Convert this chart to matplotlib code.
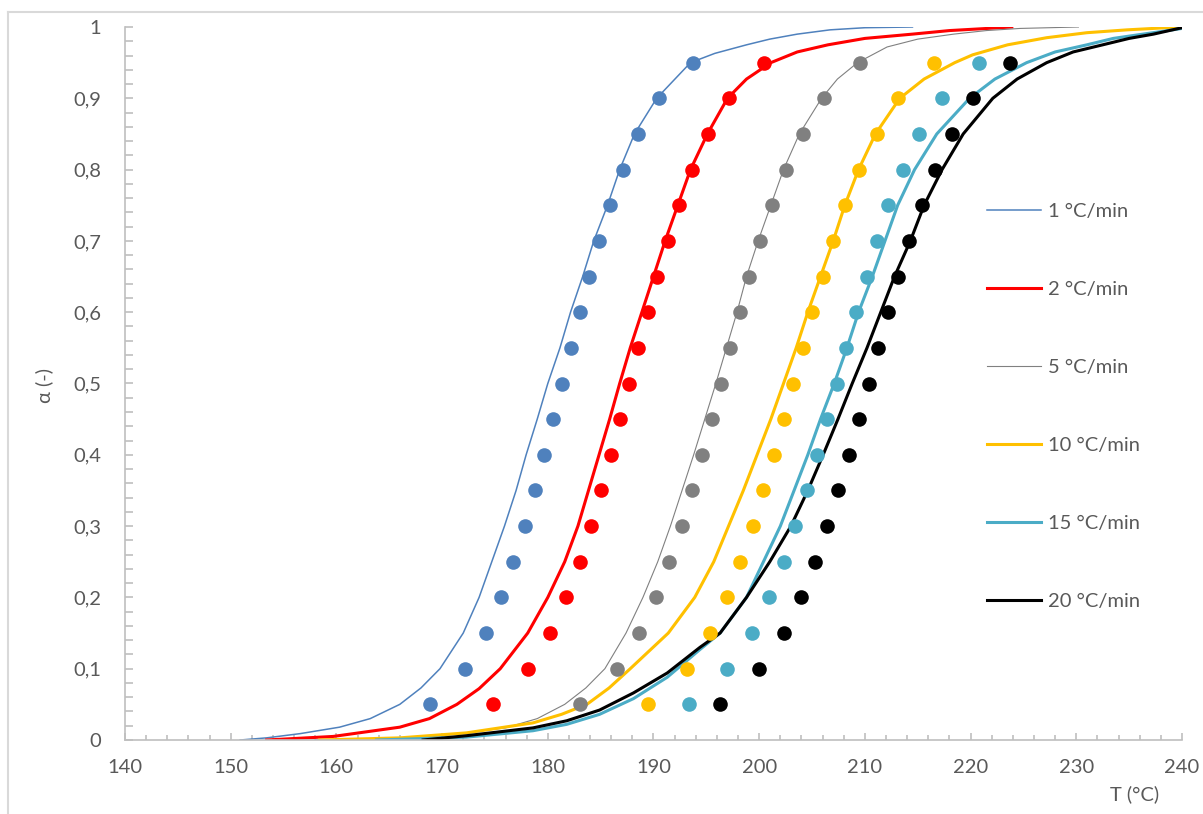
import matplotlib
matplotlib.use('Agg')
import matplotlib.pyplot as plt
from matplotlib.ticker import MultipleLocator, FuncFormatter
from matplotlib.lines import Line2D

plt.rcParams['font.family'] = ['Lato', 'DejaVu Sans']

rates = ['1 °C/min', '2 °C/min', '5 °C/min', '10 °C/min', '15 °C/min', '20 °C/min']
colors = ['#4F81BD', '#FF0000', '#808080', '#FFC000', '#4BACC6', '#000000']
line_widths = [1.1, 2.2, 0.8, 2.2, 2.2, 2.2]

# experimental points (conversion levels)
alpha_exp = [0.05, 0.10, 0.15, 0.20, 0.25, 0.30, 0.35, 0.40, 0.45, 0.50,
             0.55, 0.60, 0.65, 0.70, 0.75, 0.80, 0.85, 0.90, 0.95]
T_exp_1 = [168.9, 172.2, 174.2, 175.6, 176.7, 177.8, 178.8, 179.6, 180.5, 181.3,
           182.2, 183.0, 183.9, 184.8, 185.9, 187.1, 188.5, 190.5, 193.7]
T_exp_2 = [174.8, 178.1, 180.2, 181.7, 183.0, 184.1, 185.0, 186.0, 186.8, 187.7,
           188.5, 189.5, 190.3, 191.4, 192.4, 193.6, 195.2, 197.1, 200.5]
T_exp_5 = [183.0, 186.5, 188.6, 190.2, 191.5, 192.7, 193.6, 194.6, 195.5, 196.4,
           197.2, 198.2, 199.0, 200.1, 201.2, 202.5, 204.1, 206.1, 209.5]
T_exp_10 = [189.5, 193.2, 195.3, 197.0, 198.2, 199.4, 200.4, 201.4, 202.3, 203.2,
            204.1, 205.0, 206.0, 207.0, 208.1, 209.4, 211.1, 213.1, 216.5]
T_exp_15 = [193.4, 197.0, 199.3, 200.9, 202.3, 203.4, 204.5, 205.5, 206.4, 207.4,
            208.2, 209.2, 210.2, 211.1, 212.2, 213.6, 215.1, 217.3, 220.8]
T_exp_20 = [196.3, 200.0, 202.3, 204.0, 205.3, 206.4, 207.5, 208.5, 209.4, 210.4,
            211.2, 212.2, 213.1, 214.2, 215.4, 216.6, 218.2, 220.2, 223.7]

# model curves
fit_T_1 = [150.9, 153.4, 156.6, 160.3, 163.2, 166.0, 168.0, 169.8, 172.0, 173.5,
           174.7, 175.9, 177.0, 177.95, 179.0, 180.0, 181.15, 182.15, 183.3, 184.35,
           185.65, 186.8, 188.2, 190.3, 193.5, 195.8, 198.8, 201.0, 203.6, 206.7,
           210.0, 214.5]
fit_a_1 = [0, 0.003, 0.009, 0.018, 0.030, 0.05, 0.073, 0.10, 0.15, 0.20,
           0.25, 0.30, 0.35, 0.40, 0.45, 0.50, 0.55, 0.60, 0.65, 0.70,
           0.75, 0.80, 0.85, 0.90, 0.95, 0.963, 0.975, 0.983, 0.99, 0.996,
           0.999, 1.0]
fit_T_2 = [153.4, 159.7, 166.0, 168.8, 171.4, 173.5, 175.5, 178.1, 180.0, 181.6,
           182.85, 183.85, 184.85, 185.85, 186.8, 187.8, 188.9, 190.0, 191.1, 192.3,
           193.5, 195.1, 197.0, 198.8, 201.1, 203.6, 206.5, 210.0, 214.5, 218.0,
           221.6, 223.9]
fit_a_2 = [0, 0.005, 0.018, 0.03, 0.05, 0.072, 0.10, 0.15, 0.20, 0.25,
           0.30, 0.35, 0.40, 0.45, 0.50, 0.55, 0.60, 0.65, 0.70, 0.75,
           0.80, 0.85, 0.90, 0.927, 0.95, 0.965, 0.975, 0.984, 0.99, 0.995,
           0.998, 1.0]
fit_T_5 = [158.0, 163.0, 169.5, 176.0, 179.0, 181.6, 183.6, 185.4, 187.4, 189.0,
           190.4, 191.6, 192.7, 193.8, 194.85, 195.9, 196.9, 197.9, 198.8, 199.9,
           201.1, 202.3, 203.8, 205.9, 207.4, 209.3, 212.1, 215.0, 218.4, 221.5,
           224.7, 230.2]
fit_a_5 = [0, 0.001, 0.005, 0.017, 0.03, 0.05, 0.073, 0.10, 0.15, 0.20,
           0.25, 0.30, 0.35, 0.40, 0.45, 0.50, 0.55, 0.60, 0.65, 0.70,
           0.75, 0.80, 0.85, 0.90, 0.927, 0.95, 0.972, 0.983, 0.99, 0.995,
           0.998, 1.0]
fit_T_10 = [158.4, 166.0, 172.3, 178.6, 181.3, 183.7, 185.8, 187.8, 191.4, 193.9,
            195.7, 197.1, 198.5, 199.8, 201.1, 202.3, 203.5, 204.6, 205.8, 207.0,
            208.1, 209.4, 211.0, 213.3, 215.6, 218.5, 220.2, 223.5, 227.2, 231.0,
            234.8, 239.8]
fit_a_10 = [0, 0.003, 0.01, 0.024, 0.036, 0.05, 0.073, 0.10, 0.15, 0.20,
            0.25, 0.30, 0.35, 0.40, 0.45, 0.50, 0.55, 0.60, 0.65, 0.70,
            0.75, 0.80, 0.85, 0.90, 0.927, 0.95, 0.961, 0.975, 0.985, 0.992,
            0.996, 1.0]
fit_T_15 = [163.8, 172.3, 178.6, 181.8, 184.9, 188.1, 191.3, 194.4, 196.3, 198.8,
            200.4, 202.0, 203.3, 204.6, 205.8, 207.1, 208.3, 209.4, 210.7, 211.9,
            213.1, 214.7, 216.8, 219.9, 222.3, 225.3, 228.0, 231.0, 233.5, 236.3,
            238.2, 240.0]
fit_a_15 = [0, 0.004, 0.013, 0.022, 0.036, 0.058, 0.088, 0.127, 0.15, 0.20,
            0.25, 0.30, 0.35, 0.40, 0.45, 0.50, 0.55, 0.60, 0.65, 0.70,
            0.75, 0.80, 0.85, 0.90, 0.927, 0.95, 0.965, 0.975, 0.984, 0.99,
            0.994, 0.998]
fit_T_20 = [168.2, 172.3, 178.6, 181.8, 184.9, 188.1, 191.3, 194.4, 196.3, 198.8,
            201.0, 203.0, 204.6, 206.05, 207.45, 208.8, 210.2, 211.5, 212.8, 214.3,
            215.6, 217.3, 219.3, 222.1, 224.4, 227.2, 229.7, 232.5, 235.0, 237.3,
            240.0]
fit_a_20 = [0, 0.006, 0.017, 0.027, 0.042, 0.066, 0.094, 0.13, 0.15, 0.20,
            0.25, 0.30, 0.35, 0.40, 0.45, 0.50, 0.55, 0.60, 0.65, 0.70,
            0.75, 0.80, 0.85, 0.90, 0.927, 0.95, 0.965, 0.975, 0.984, 0.99,
            0.999]

T_exp = [T_exp_1, T_exp_2, T_exp_5, T_exp_10, T_exp_15, T_exp_20]
fit_T = [fit_T_1, fit_T_2, fit_T_5, fit_T_10, fit_T_15, fit_T_20]
fit_a = [fit_a_1, fit_a_2, fit_a_5, fit_a_10, fit_a_15, fit_a_20]

W, H = 1203, 814
fig = plt.figure(figsize=(W / 100, H / 100), dpi=100)
ax = fig.add_axes([125 / W, 1 - 740 / H, (1182 - 125) / W, (740 - 27) / H])

handles = []
for i in range(len(rates)):
    ln, = ax.plot(fit_T[i], fit_a[i], color=colors[i], lw=line_widths[i],
                  solid_joinstyle='round', zorder=2)
    handles.append(ln)
for i in range(len(rates)):
    ax.plot(T_exp[i], alpha_exp, 'o', color=colors[i], ms=10.5, mew=0,
            linestyle='none', zorder=3)

ax.set_xlim(140, 240)
ax.set_ylim(0, 1)

axis_grey = '#BFBFBF'
text_grey = '#595959'
for s in ['top', 'right']:
    ax.spines[s].set_visible(False)
for s in ['left', 'bottom']:
    ax.spines[s].set_color(axis_grey)
    ax.spines[s].set_linewidth(1.2)

ax.xaxis.set_major_locator(MultipleLocator(10))
ax.xaxis.set_minor_locator(MultipleLocator(2))
ax.yaxis.set_major_locator(MultipleLocator(0.1))
ax.yaxis.set_minor_locator(MultipleLocator(0.02))
ax.yaxis.set_major_formatter(FuncFormatter(
    lambda v, p: ('%g' % round(v, 2)).replace('.', ',')))

ax.tick_params(axis='x', which='major', direction='in', length=5, width=1.2,
               color=axis_grey, labelsize=14.5, labelcolor=text_grey, pad=14)
ax.tick_params(axis='x', which='minor', direction='in', length=3.5, width=1.2,
               color=axis_grey)
ax.tick_params(axis='y', which='both', direction='in', length=5.5, width=1.2,
               color=axis_grey, labelsize=14.5, labelcolor=text_grey, pad=17)

fig.text(44 / W, 1 - 385 / H, 'α (-)', rotation=90, ha='center', va='center',
         fontsize=14.5, color=text_grey)
fig.text(1135 / W, 1 - 794 / H, 'T (°C)', ha='center', va='center',
         fontsize=14.5, color=text_grey)

leg = fig.legend(handles, rates, loc='upper left',
                 bbox_to_anchor=(987 / W, 1 - 203 / H), frameon=False,
                 fontsize=14.5, labelcolor=text_grey, handlelength=2.7,
                 handletextpad=0.35, labelspacing=3.02, borderpad=0,
                 borderaxespad=0)

# light chart-area border
fig.add_artist(Line2D([8 / W, 1], [1 - 12 / H, 1 - 12 / H],
                      transform=fig.transFigure, color='#D9D9D9', lw=1.5))
fig.add_artist(Line2D([8 / W, 8 / W], [0, 1 - 12 / H],
                      transform=fig.transFigure, color='#D9D9D9', lw=1.5))

fig.savefig('out.png', dpi=100)
